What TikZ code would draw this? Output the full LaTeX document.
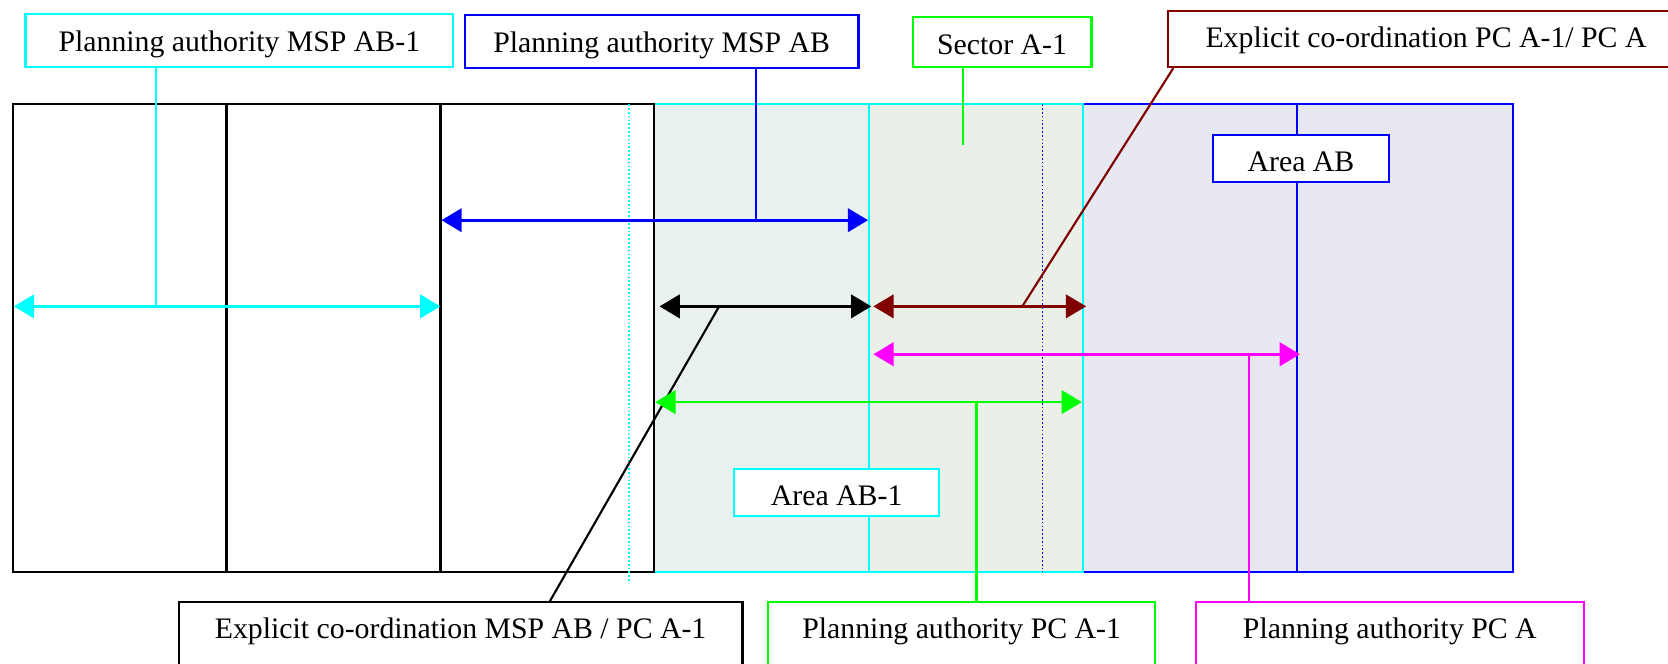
\documentclass[tikz,border=0pt]{standalone}
\usepackage{fontspec}
\setmainfont{Liberation Serif}
\usetikzlibrary{arrows.meta}
\definecolor{cy}{RGB}{0,255,255}
\definecolor{bl}{RGB}{0,0,255}
\definecolor{gr}{RGB}{0,255,0}
\definecolor{dr}{RGB}{128,0,0}
\definecolor{mg}{RGB}{255,0,255}
\definecolor{fillA}{RGB}{232,240,240}
\definecolor{fillS}{RGB}{234,240,232}
\definecolor{fillB}{RGB}{232,232,242}
\tikzset{
  lab/.style={draw, fill=white, text=black, line width=2pt, inner xsep=0pt, inner ysep=6pt,
    text height=29pt, text depth=9pt, anchor=north west,
    font=\fontsize{28pt}{34pt}\selectfont},
  arealab/.style={lab, inner ysep=5pt, text height=29pt, text depth=5pt},
  botlab/.style={lab, text height=28pt, text depth=40pt},
  border/.style={line width=2.2pt},
  leader/.style={line width=2pt},
  dim/.style={line width=2.6pt, {Triangle[length=19pt,width=22pt]}-{Triangle[length=19pt,width=22pt]}},
  dots/.style={dotted, line width=1.6pt}
}
\begin{document}
\begin{tikzpicture}[x=1pt,y=-1pt]
\useasboundingbox (0,0) rectangle (1568,624);
% region fills
\fill[fillA] (615,98) rectangle (817,538);
\fill[fillS] (817,98) rectangle (1018,538);
\fill[fillB] (1018,98) rectangle (1422,538);
% Area AB
\draw[bl, border] (1018,98) rectangle (1422,538);
\draw[bl, border] (1219,98) -- (1219,538);
% Area AB-1
\draw[cy, border] (615,98) -- (1018,98) -- (1018,538) -- (615,538);
\draw[cy, border] (817,98) -- (817,538);
% left black blocks
\draw[border] (12,98) rectangle (615,538);
\draw[border] (213,98) -- (213,538) (414,98) -- (414,538);
% dotted lines
\draw[cy, dots] (591,98) -- (591,548);
\draw[bl, dots] (980,98) -- (980,538);
% labels
\node[lab, draw=cy, minimum width=402pt] (lab1) at (23,12) {Planning authority MSP AB-1};
\node[lab, draw=bl, minimum width=370pt] (lab2) at (436,13) {Planning authority MSP AB};
\node[lab, draw=gr, minimum width=168pt, text depth=6pt] (lab3) at (857,15) {Sector A-1};
\node[lab, draw=dr, minimum width=485pt, text depth=12pt] (lab4) at (1097,9) {Explicit co-ordination PC A-1/ PC A};
\node[arealab, draw=bl, minimum width=166pt] (areaAB) at (1139,126) {Area AB};
\node[arealab, draw=cy, minimum width=193pt] (areaAB1) at (689,440) {Area AB-1};
\node[botlab, draw=black, minimum width=530pt] (bot1) at (167,565) {Explicit co-ordination MSP AB / PC A-1};
\node[botlab, draw=gr, minimum width=364pt] (bot2) at (721,565) {Planning authority PC A-1};
\node[botlab, draw=mg, minimum width=365pt] (bot3) at (1123,565) {Planning authority PC A};
% arrow end points
\coordinate (cyL) at (13,288);   \coordinate (cyR) at (414,288);
\coordinate (blL) at (415,207);  \coordinate (blR) at (816,207);
\coordinate (bkL) at (620,288);  \coordinate (bkR) at (819,288);
\coordinate (drL) at (821,288);  \coordinate (drR) at (1021,288);
\coordinate (mgL) at (821,333);  \coordinate (mgR) at (1222,333);
\coordinate (grL) at (616,378);  \coordinate (grR) at (1017,378);
% leader end points
\coordinate (k1) at (147,288);
\coordinate (k2) at (711,206);
\coordinate (k3) at (905,136);
\coordinate (k4) at (961,288);
\coordinate (k5) at (676,288);
\coordinate (k6) at (918,378);
\coordinate (k7) at (1174,333);
% leaders
\draw[cy, leader] (lab1.south -| k1) -- (k1);
\draw[bl, leader] (lab2.south -| k2) -- (k2);
\draw[gr, leader] (lab3.south -| k3) -- (k3);
\draw[dr, leader] ([xshift=6pt]lab4.south west) -- (k4);
\draw[black, leader] ([xshift=350pt]bot1.north west) -- (k5);
\draw[gr, leader] (bot2.north -| k6) -- (k6);
\draw[mg, leader] (bot3.north -| k7) -- (k7);
% dimension arrows
\draw[cy, dim] (cyL) -- (cyR);
\draw[bl, dim] (blL) -- (blR);
\draw[black, dim] (bkL) -- (bkR);
\draw[dr, dim] (drL) -- (drR);
\draw[mg, dim] (mgL) -- (mgR);
\draw[gr, dim] (grL) -- (grR);
\end{tikzpicture}
\end{document}
